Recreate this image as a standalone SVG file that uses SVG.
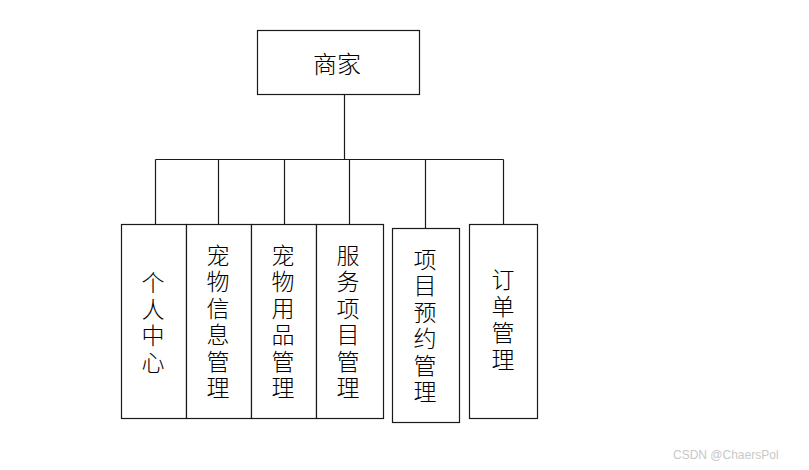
<svg xmlns="http://www.w3.org/2000/svg" width="809" height="470" viewBox="0 0 809 470">
<style>
.box{fill:#fff;stroke:#1a1a1a;stroke-width:1.2}
.ln{fill:none;stroke:#1a1a1a;stroke-width:1.2}
.t{font-family:"Noto Sans CJK SC","Noto Sans CJK JP",sans-serif;font-size:23px;font-weight:300;fill:#000;text-anchor:middle}
.v{writing-mode:vertical-rl;letter-spacing:3.5px}
.wm{font-family:"Liberation Sans",Arial,sans-serif;font-size:12px;fill:#c8c8c8}
</style>
<rect width="809" height="470" fill="#fff"/>
<g id="connectors">
<path class="ln" d="M344.5 95V159.5M155.5 159.5H503.5M155.5 159.5V224M218.5 159.5V224M284.5 159.5V224M349.5 159.5V224M425.5 159.5V228M503.5 159.5V224"/>
</g>
<g id="merchant">
<rect class="box" x="257.5" y="30.5" width="162" height="64"/>
<text class="t" x="337" y="62" style="font-size:24px;dominant-baseline:central">商家</text>
</g>
<g id="personal">
<rect class="box" x="121.5" y="224.5" width="65" height="194"/>
<text class="t v" x="153" y="324">个人中心</text>
</g>
<g id="pet-info">
<rect class="box" x="186.5" y="224.5" width="65" height="194"/>
<text class="t v" x="218" y="323">宠物信息管理</text>
</g>
<g id="pet-supplies">
<rect class="box" x="251.5" y="224.5" width="65" height="194"/>
<text class="t v" x="283" y="323">宠物用品管理</text>
</g>
<g id="service-items">
<rect class="box" x="316.5" y="224.5" width="67" height="194"/>
<text class="t v" x="348" y="323">服务项目管理</text>
</g>
<g id="booking">
<rect class="box" x="392.5" y="228.5" width="67" height="194"/>
<text class="t v" x="425" y="327">项目预约管理</text>
</g>
<g id="orders">
<rect class="box" x="469.5" y="224.5" width="68" height="194"/>
<text class="t v" x="503" y="321">订单管理</text>
</g>
<text class="wm" x="673" y="459">CSDN @ChaersPol</text>
</svg>
